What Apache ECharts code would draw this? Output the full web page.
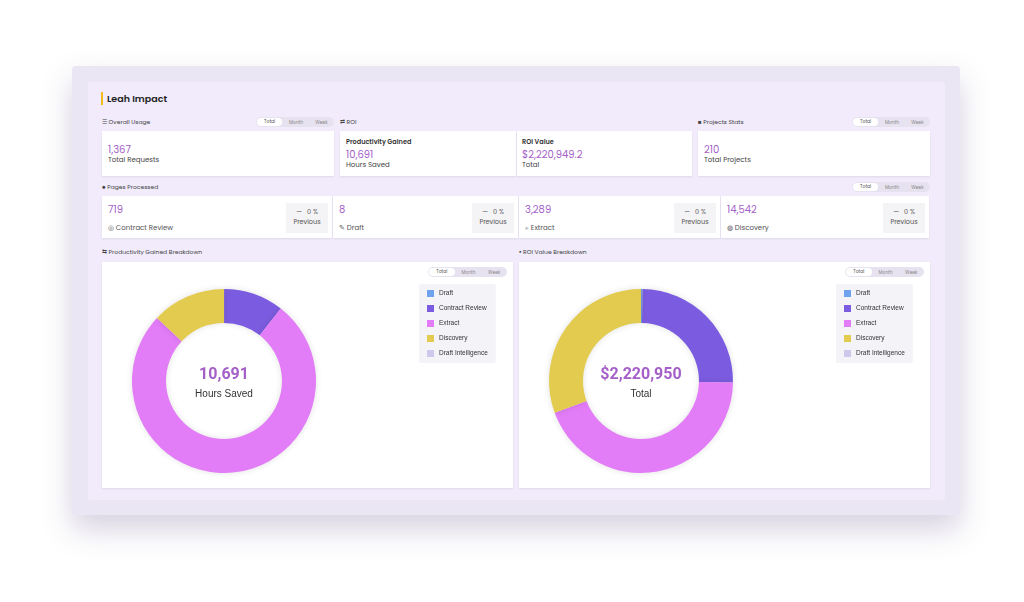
<!DOCTYPE html>
<html><head><meta charset="utf-8">
<script src="https://cdn.jsdelivr.net/npm/echarts@6/dist/echarts.min.js"></script>
<style>
body{margin:0;width:1024px;height:602px;background:#fff;font-family:Poppins,"Open Sans",Lato,sans-serif;position:relative;overflow:hidden;color:#333}
.abs{position:absolute}
.frame{left:72px;top:66px;width:888px;height:449px;background:#ebe6f3;border-radius:4px;box-shadow:0 14px 30px rgba(90,70,130,.25)}
.panel{left:88px;top:82px;width:857px;height:418px;background:#f1ebfc;border-radius:3px}
.card{background:#fff;box-shadow:0 1px 2px rgba(0,0,0,.08)}
.lbl{font-size:6px;color:#444}
.num{color:#a45fc8;font-size:10px}
.sub{font-size:7px;color:#444}
.tog{height:10px;background:#e7e2ef;border-radius:5px;font-size:4.5px;color:#888;display:flex;align-items:center}
.tog span{flex:1;text-align:center}
.tog span:first-child{background:#fff;border-radius:5px;margin:1px;line-height:8px;color:#555}
.prev{background:#f4f3f6;width:42px;height:30px;font-size:6.5px;color:#555;text-align:center;line-height:10px;padding-top:4px;box-sizing:border-box}
</style></head><body>
<div class="abs frame"></div>
<div class="abs panel"></div>
<div class="abs" style="left:101px;top:92px;width:2px;height:13px;background:#f2bd1c"></div>
<div class="abs" style="left:107px;top:92px;font-size:9.5px;font-weight:600;color:#222">Leah Impact</div>

<div class="abs lbl" style="left:102px;top:118px">☰ Overall Usage</div>
<div class="abs tog" style="left:256px;top:117px;width:78px"><span>Total</span><span>Month</span><span>Week</span></div>
<div class="abs lbl" style="left:340px;top:118px">⇄ ROI</div>
<div class="abs lbl" style="left:698px;top:118px">■ Projects Stats</div>
<div class="abs tog" style="left:852px;top:117px;width:78px"><span>Total</span><span>Month</span><span>Week</span></div>

<div class="abs card" style="left:102px;top:131px;width:232px;height:45px"></div>
<div class="abs num" style="left:108px;top:142px">1,367</div>
<div class="abs sub" style="left:108px;top:155px">Total Requests</div>
<div class="abs card" style="left:340px;top:131px;width:176px;height:45px"></div>
<div class="abs card" style="left:517px;top:131px;width:175px;height:45px"></div>
<div class="abs" style="left:346px;top:137px;font-size:6.5px;font-weight:600;color:#333">Productivity Gained</div>
<div class="abs num" style="left:346px;top:147px">10,691</div>
<div class="abs sub" style="left:346px;top:160px">Hours Saved</div>
<div class="abs" style="left:522px;top:137px;font-size:6.5px;font-weight:600;color:#333">ROI Value</div>
<div class="abs num" style="left:522px;top:147px">$2,220,949.2</div>
<div class="abs sub" style="left:522px;top:160px">Total</div>
<div class="abs card" style="left:698px;top:131px;width:232px;height:45px"></div>
<div class="abs num" style="left:704px;top:142px">210</div>
<div class="abs sub" style="left:704px;top:155px">Total Projects</div>

<div class="abs lbl" style="left:102px;top:183px">● Pages Processed</div>
<div class="abs tog" style="left:852px;top:182px;width:78px"><span>Total</span><span>Month</span><span>Week</span></div>
<div id="pages"></div>

<div class="abs lbl" style="left:102px;top:248px">⇆ Productivity Gained Breakdown</div>
<div class="abs lbl" style="left:519px;top:248px">▪ ROI Value Breakdown</div>
<div class="abs card" style="left:102px;top:262px;width:411px;height:226px"></div>
<div class="abs card" style="left:519px;top:262px;width:411px;height:226px"></div>
<div class="abs tog" style="left:428px;top:267px;width:79px"><span>Total</span><span>Month</span><span>Week</span></div>
<div class="abs tog" style="left:845px;top:267px;width:79px"><span>Total</span><span>Month</span><span>Week</span></div>
<div id="c1" class="abs" style="left:102px;top:262px;width:411px;height:226px"></div>
<div id="c2" class="abs" style="left:519px;top:262px;width:411px;height:226px"></div>
<script>
var pageCats = ['Contract Review', 'Draft', 'Extract', 'Discovery'];
var pageIcons = ['◎', '✎', '⌕', '◍'];
var pageVals = ['719', '8', '3,289', '14,542'];
var pageEdges = [102, 333, 519, 721, 930];

var breakdownCats = ['Draft', 'Contract Review', 'Extract', 'Discovery', 'Draft Intelligence'];
var breakdownColors = ['#6fa3f0', '#7b5ce0', '#e27cf7', '#e3cb50', '#cfc8ec'];
var hoursVals = [2, 1130, 8170, 1389, 0];
var roiVals = [6000, 555000, 980000, 679950, 0];

var html = '';
for (var i = 0; i < pageCats.length; i++) {
  var x = pageEdges[i], w = pageEdges[i + 1] - x - 1;
  html += '<div class="abs card" style="left:' + x + 'px;top:196px;width:' + w + 'px;height:42px"></div>' +
    '<div class="abs num" style="left:' + (x + 6) + 'px;top:202px">' + pageVals[i] + '</div>' +
    '<div class="abs sub" style="left:' + (x + 6) + 'px;top:223px;color:#555">' + pageIcons[i] + ' ' + pageCats[i] + '</div>' +
    '<div class="abs prev" style="left:' + (x + w - 46) + 'px;top:203px">— &nbsp; 0 %<br>Previous</div>';
}
document.getElementById('pages').innerHTML = html;

function donut(id, vals, big, small) {
  var chart = echarts.init(document.getElementById(id));
  chart.setOption({
    color: breakdownColors,
    legend: {
      orient: 'vertical', left: 317, top: 22, itemWidth: 7, itemHeight: 7, itemGap: 8,
      padding: [6, 8, 6, 8], backgroundColor: '#f4f3f7', borderRadius: 2,
      icon: 'rect', textStyle: { fontSize: 6.5, color: '#333' },
      data: breakdownCats
    },
    graphic: [
      { type: 'text', x: 122, y: 113, style: { text: big, fontSize: 16, fontWeight: 'bold', fill: '#a45fc8', align: 'center', verticalAlign: 'middle', fontFamily: 'Roboto' } },
      { type: 'text', x: 122, y: 132, style: { text: small, fontSize: 10, fill: '#333', align: 'center', verticalAlign: 'middle' } }
    ],
    series: [{
      type: 'pie', center: [122, 119], radius: [58, 92], label: { show: false },
      startAngle: 90, silent: true,
      itemStyle: { shadowBlur: 6, shadowColor: 'rgba(0,0,0,0.12)' },
      data: breakdownCats.map(function (c, i) { return { name: c, value: vals[i] }; })
    }]
  });
}
donut('c1', hoursVals, '10,691', 'Hours Saved');
donut('c2', roiVals, '$2,220,950', 'Total');
</script>
</body></html>
